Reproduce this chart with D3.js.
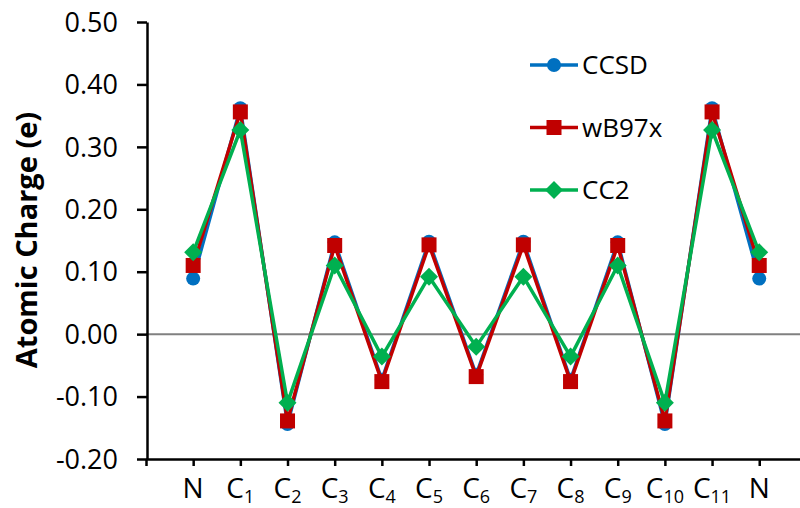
<!DOCTYPE html>
<html>
<head>
<meta charset="utf-8">
<script src="https://cdn.jsdelivr.net/npm/d3@7"></script>
<style>
  body { margin: 0; background: #fff; }
  text { font-family: "Open Sans", sans-serif; fill: #000; }
</style>
</head>
<body>
<div id="chart"></div>
<script>
// atoms along the chain (label base + subscript)
const atoms = [["N",""],["C","1"],["C","2"],["C","3"],["C","4"],["C","5"],["C","6"],
               ["C","7"],["C","8"],["C","9"],["C","10"],["C","11"],["N",""]];

const ccsd  = [0.089, 0.362, -0.144, 0.147, -0.073, 0.148, -0.065, 0.148, -0.073, 0.147, -0.144, 0.362, 0.089];
const wb97x = [0.110, 0.356, -0.139, 0.142, -0.076, 0.143, -0.068, 0.143, -0.076, 0.142, -0.139, 0.356, 0.110];
const cc2   = [0.131, 0.327, -0.110, 0.110, -0.036, 0.092, -0.020, 0.092, -0.036, 0.110, -0.110, 0.327, 0.131];

const yTicks = [-0.2, -0.1, 0, 0.1, 0.2, 0.3, 0.4, 0.5];

const series = [
  {name: "CCSD",  values: ccsd,  color: "#0070C0", marker: "circle"},
  {name: "wB97x", values: wb97x, color: "#C00000", marker: "square"},
  {name: "CC2",   values: cc2,   color: "#00B050", marker: "diamond"}
];

const width = 800, height = 508;

const svg = d3.select("#chart").append("svg")
    .attr("width", width)
    .attr("height", height);

// x positions 1..13 for the atoms, axis starts at 0
const x = d3.scaleLinear().domain([0, 14]).range([146, 806.4]);
const y = d3.scaleLinear().domain([-0.2, 0.5]).range([459, 22]);

// zero line
svg.append("line")
    .attr("x1", x(0)).attr("x2", width)
    .attr("y1", y(0)).attr("y2", y(0))
    .attr("stroke", "#808080").attr("stroke-width", 2);

// y axis (plain hyphen for negatives, like the original)
const fmt = d3.format(".2f");
const yAxis = svg.append("g")
    .attr("transform", `translate(${x(0) + 1},0)`)
    .call(d3.axisLeft(y).tickValues(yTicks).tickFormat(d => fmt(d).replace("\u2212", "-"))
      .tickSize(10).tickSizeOuter(0).tickPadding(19));
yAxis.select(".domain").attr("stroke-width", 2.5);
yAxis.selectAll(".tick line").attr("stroke-width", 2.5);
yAxis.selectAll("text").style("font-size", "27px").attr("dy", "0.34em");

// x axis
const xAxis = svg.append("g")
    .attr("transform", `translate(0,${y(-0.2)})`)
    .call(d3.axisBottom(x).tickValues(d3.range(0, 14)).tickFormat("")
      .tickSize(7).tickSizeOuter(0));
xAxis.select(".domain").attr("stroke-width", 2.5);
xAxis.selectAll(".tick line").attr("stroke-width", 2.5);

// atom labels with subscripts
const lbl = svg.append("g").selectAll("text")
    .data(atoms)
  .enter().append("text")
    .attr("x", (d, i) => x(i + 1))
    .attr("y", 498)
    .attr("text-anchor", "middle")
    .style("font-size", "28px");
lbl.append("tspan").text(d => d[0]);
lbl.append("tspan")
    .attr("dy", 5)
    .style("font-size", "18px")
    .text(d => d[1]);

// y label
svg.append("text")
    .attr("transform", "translate(37,240) rotate(-90)")
    .attr("text-anchor", "middle")
    .style("font-size", "29px")
    .style("font-weight", "bold")
    .text("Atomic Charge (e)");

function drawMarker(g, type, color) {
  if (type === "circle") {
    g.append("circle").attr("r", 7).attr("fill", color);
  } else if (type === "square") {
    g.append("rect").attr("x", -7.5).attr("y", -7.5)
      .attr("width", 15).attr("height", 15).attr("fill", color);
  } else {
    g.append("path").attr("d", "M0,-9L9,0L0,9L-9,0Z").attr("fill", color);
  }
}

const line = d3.line()
    .x((d, i) => x(i + 1))
    .y(d => y(d));

series.forEach(s => {
  const g = svg.append("g");
  g.append("path")
      .datum(s.values)
      .attr("d", line)
      .attr("fill", "none")
      .attr("stroke", s.color)
      .attr("stroke-width", 3.5)
      .attr("stroke-linejoin", "round");
  g.selectAll(".pt")
      .data(s.values)
    .enter().append("g")
      .attr("class", "pt")
      .attr("transform", (d, i) => `translate(${x(i + 1)},${y(d)})`)
      .each(function() { drawMarker(d3.select(this), s.marker, s.color); });
});

// legend
const legend = svg.append("g");
series.forEach((s, i) => {
  const ly = 65 + i * 62.5;
  const row = legend.append("g").attr("transform", `translate(0,${ly})`);
  row.append("line")
      .attr("x1", 530).attr("x2", 578)
      .attr("stroke", s.color).attr("stroke-width", 3.5);
  drawMarker(row.append("g").attr("transform", "translate(554,0)"), s.marker, s.color);
  row.append("text")
      .attr("x", 582).attr("dy", "0.35em")
      .style("font-size", "26px")
      .text(s.name);
});
</script>
</body>
</html>
